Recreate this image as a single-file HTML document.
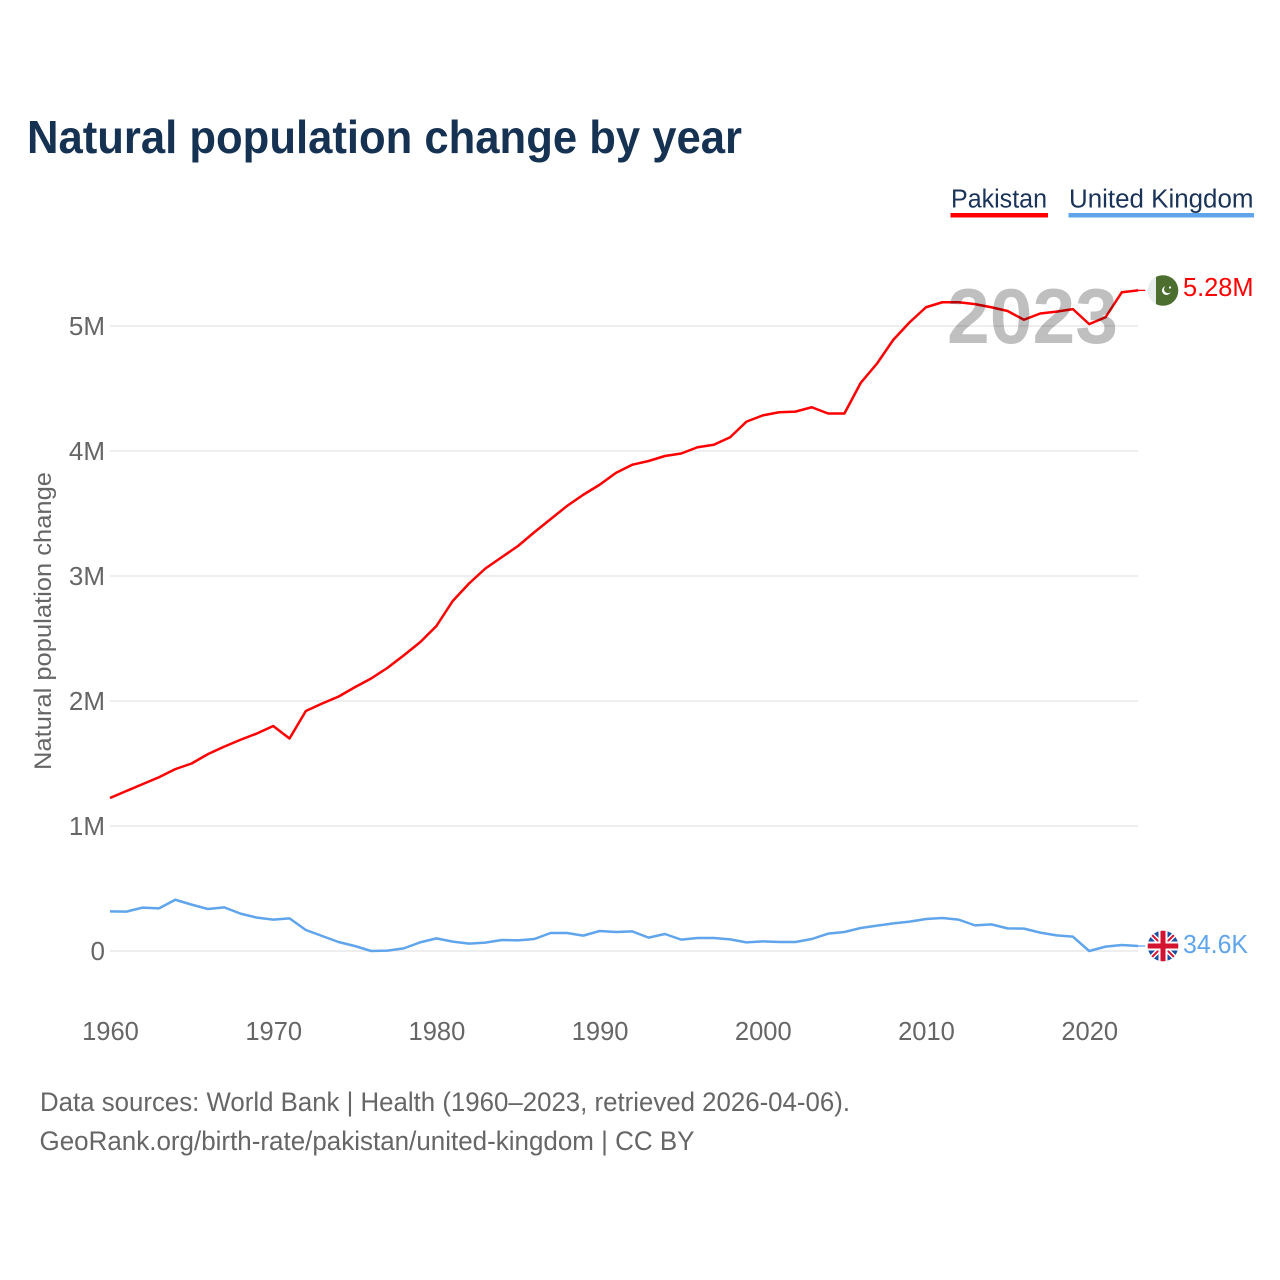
<!DOCTYPE html>
<html lang="en">
<head>
<meta charset="utf-8">
<title>Natural population change by year</title>
<style>
html,body{margin:0;padding:0;background:#fff;width:1280px;height:1280px;overflow:hidden}
svg{display:block}
text{font-family:"Liberation Sans",sans-serif}
</style>
</head>
<body>
<svg id="chart" xmlns="http://www.w3.org/2000/svg" width="1280" height="1280" viewBox="0 0 1280 1280">
  <rect width="1280" height="1280" fill="#fff"/>
  <text x="27" y="153" font-size="46" font-weight="700" fill="#163253" textLength="715" lengthAdjust="spacingAndGlyphs">Natural population change by year</text>

  <g>
    <text x="951" y="207.5" font-size="25.5" fill="#1a3358" textLength="96" lengthAdjust="spacingAndGlyphs">Pakistan</text>
    <rect x="950.5" y="213" width="97.5" height="4.5" fill="#ff0000"/>
  </g>
  <g>
    <text x="1069" y="207.5" font-size="25.5" fill="#1a3358" textLength="184.5" lengthAdjust="spacingAndGlyphs">United Kingdom</text>
    <rect x="1068.5" y="213" width="185.5" height="4.5" fill="#60a5ec"/>
  </g>

  <text transform="translate(51,621) rotate(-90)" text-anchor="middle" font-size="24" fill="#666" textLength="298" lengthAdjust="spacingAndGlyphs">Natural population change</text>

  <g id="grid"></g>
  <g id="y-ticks"></g>
  <g id="x-ticks"></g>
  <g id="lines"></g>

  <text x="947" y="343" font-size="78" font-weight="700" fill="#000" fill-opacity="0.25" textLength="171" lengthAdjust="spacingAndGlyphs">2023</text>

  <defs>
    <clipPath id="pk-clip"><circle cx="1163" cy="290.5" r="15.3"/></clipPath>
    <clipPath id="uk-clip"><circle cx="1163" cy="946" r="15.3"/></clipPath>
  </defs>
  <g clip-path="url(#pk-clip)">
    <rect x="1147" y="275" width="9" height="31" fill="#e9eded"/>
    <rect x="1156" y="275" width="24" height="31" fill="#4c6e2f"/>
    <circle cx="1166.5" cy="290.5" r="4.5" fill="#fff"/>
    <circle cx="1168" cy="289.2" r="4" fill="#4c6e2f"/>
    <circle cx="1170" cy="287.5" r="1.1" fill="#fff"/>
  </g>
  <g clip-path="url(#uk-clip)">
    <rect x="1147" y="930" width="32" height="32" fill="#1a4fa3"/>
    <path d="M1147 930 L1179 962 M1179 930 L1147 962" stroke="#fff" stroke-width="5"/>
    <path d="M1147 930 L1179 962 M1179 930 L1147 962" stroke="#d3132f" stroke-width="2"/>
    <path d="M1163 930 V962 M1147 946 H1179" stroke="#fff" stroke-width="9"/>
    <path d="M1163 930 V962 M1147 946 H1179" stroke="#d3132f" stroke-width="5"/>
  </g>
  <text x="1183" y="296" font-size="25.5" fill="#ff0000" textLength="70.5" lengthAdjust="spacingAndGlyphs">5.28M</text>
  <text x="1183" y="953" font-size="25.5" fill="#60a5ec" textLength="65" lengthAdjust="spacingAndGlyphs">34.6K</text>

  <text x="40" y="1111" font-size="26.5" fill="#666" textLength="810" lengthAdjust="spacingAndGlyphs">Data sources: World Bank | Health (1960–2023, retrieved 2026-04-06).</text>
  <text x="39.5" y="1150" font-size="26.5" fill="#666" textLength="655" lengthAdjust="spacingAndGlyphs">GeoRank.org/birth-rate/pakistan/united-kingdom | CC BY</text>
</svg>
<script>
const startYear = 1960;
const pakistanValues = [1.224,1.28,1.335,1.39,1.455,1.5,1.575,1.635,1.69,1.74,1.8,1.7,1.92,1.98,2.035,2.11,2.18,2.265,2.365,2.47,2.6,2.8,2.94,3.06,3.15,3.24,3.35,3.455,3.56,3.65,3.73,3.825,3.89,3.92,3.96,3.98,4.03,4.05,4.11,4.235,4.285,4.31,4.315,4.35,4.3,4.3,4.545,4.7,4.89,5.03,5.15,5.19,5.19,5.175,5.15,5.12,5.05,5.1,5.115,5.135,5.015,5.07,5.27,5.285];
const ukValues = [0.317,0.315,0.347,0.341,0.41,0.371,0.336,0.349,0.299,0.267,0.251,0.261,0.168,0.12,0.072,0.04,0,0.003,0.021,0.069,0.101,0.075,0.059,0.067,0.088,0.085,0.096,0.144,0.144,0.123,0.16,0.152,0.157,0.107,0.136,0.091,0.104,0.104,0.093,0.069,0.077,0.072,0.072,0.096,0.139,0.152,0.184,0.203,0.221,0.235,0.256,0.264,0.251,0.205,0.213,0.181,0.179,0.147,0.125,0.115,0,0.035,0.048,0.04];
const yTickValues = [0,1,2,3,4,5];
const yTickLabels = ["0","1M","2M","3M","4M","5M"];
const xTickYears = [1960,1970,1980,1990,2000,2010,2020];

const SVG_NS = "http://www.w3.org/2000/svg";
function xScale(year){ return 110 + (year - 1960) * 16.32; }
function yScale(v){ return 951 - v * 125; }
function makeSvg(tag, attrs, parent, text){
  const el = document.createElementNS(SVG_NS, tag);
  for (const k in attrs) el.setAttribute(k, attrs[k]);
  if (text !== undefined) el.textContent = text;
  parent.appendChild(el);
  return el;
}

const gridGroup = document.getElementById("grid");
const yTickGroup = document.getElementById("y-ticks");
yTickValues.forEach(function(v, i){
  const line = makeSvg("line", {x1:110, x2:1138, y1:yScale(v), y2:yScale(v), stroke:"#e8e8e8", "stroke-width":1.5}, gridGroup);
  
  
  const label = makeSvg("text", {x:105, y:yScale(v) + 9, "text-anchor":"end", "font-size":26, fill:"#666"}, yTickGroup, yTickLabels[i]);
  
  
});

const xTickGroup = document.getElementById("x-ticks");
xTickYears.forEach(function(year){
  const label = makeSvg("text", {x:xScale(year) + 0.5, y:1040, "text-anchor":"middle", "font-size":25.5, fill:"#666"}, xTickGroup, String(year));
  
  
});

function pathFor(values){
  return values.map(function(v, i){
    return (i ? "L" : "M") + xScale(startYear + i).toFixed(2) + " " + yScale(v).toFixed(2);
  }).join(" ");
}
const lineGroup = document.getElementById("lines");

const ukLine = makeSvg("path", {d:pathFor(ukValues), fill:"none", stroke:"#60a5ec", "stroke-width":2.5, "stroke-linejoin":"round"}, lineGroup);



const pkLine = makeSvg("path", {d:pathFor(pakistanValues), fill:"none", stroke:"#ff0000", "stroke-width":2.5, "stroke-linejoin":"round"}, lineGroup);



const lastYearX = xScale(startYear + pakistanValues.length - 1);
const ukConnectorY = yScale(ukValues[ukValues.length - 1]);
const pkConnectorY = yScale(pakistanValues[pakistanValues.length - 1]);

const pkConnector = makeSvg("line", {x1:lastYearX, x2:lastYearX + 7, y1:pkConnectorY, y2:pkConnectorY, stroke:"#ff0000", "stroke-width":1.3}, lineGroup);



const ukConnector = makeSvg("line", {x1:lastYearX, x2:lastYearX + 7, y1:ukConnectorY, y2:ukConnectorY, stroke:"#60a5ec", "stroke-width":1.3}, lineGroup);


</script>
</body>
</html>
